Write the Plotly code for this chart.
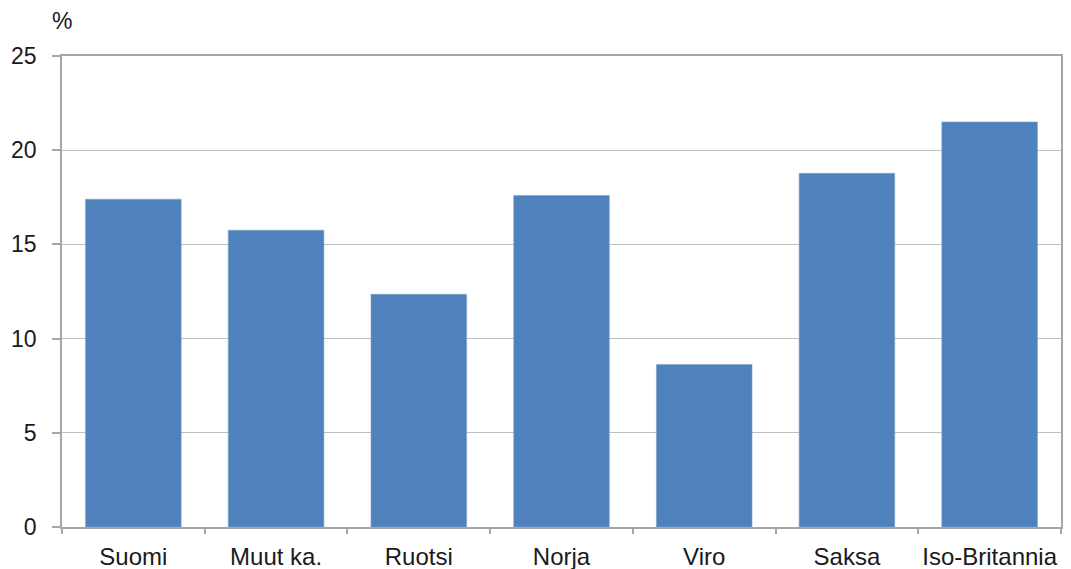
import plotly.graph_objects as go

categories = ["Suomi", "Muut ka.", "Ruotsi", "Norja", "Viro", "Saksa", "Iso-Britannia"]
values = [17.4, 15.75, 12.35, 17.6, 8.62, 18.77, 21.5]
y_ticks = [0, 5, 10, 15, 20, 25]

bar_color = "#4F81BD"
grid_color = "#BFBFBF"
axis_color = "#A6A6A6"
text_color = "#1a1a1a"
font_family = "Liberation Sans, Arial, sans-serif"

fig = go.Figure()
fig.add_trace(go.Bar(
    x=categories,
    y=values,
    marker=dict(color=bar_color, line=dict(color="#7EA2CF", width=0.6)),
    width=0.67,
    hoverinfo="skip",
))

fig.update_xaxes(
    type="category",
    ticks="outside", tickson="boundaries", ticklen=5,
    tickcolor=axis_color, tickwidth=1.5,
    showline=True, linecolor=axis_color, linewidth=1.5, mirror=True,
    showgrid=False,
    tickangle=0,
    tickfont=dict(family=font_family, size=24, color=text_color),
    ticklabelstandoff=7,
    automargin=False,
)
fig.update_yaxes(
    range=[0, 25],
    tickvals=y_ticks,
    ticks="outside", ticklen=8, tickcolor=axis_color, tickwidth=1.5,
    showline=True, linecolor=axis_color, linewidth=1.5, mirror=True,
    showgrid=True, gridcolor=grid_color, gridwidth=1.2,
    zeroline=False,
    tickfont=dict(family=font_family, size=23, color=text_color),
    ticklabelstandoff=11,
    automargin=False,
)

fig.add_annotation(
    text="%", xref="paper", yref="paper", x=0, y=1.0, yshift=35, xshift=-12,
    xanchor="left", yanchor="middle", showarrow=False,
    font=dict(family=font_family, size=23, color=text_color),
)

fig.update_layout(
    width=1071, height=569,
    margin=dict(l=54, r=18, t=48, b=50),
    plot_bgcolor="white", paper_bgcolor="white",
    showlegend=False,
)

fig.write_html("out.html")
